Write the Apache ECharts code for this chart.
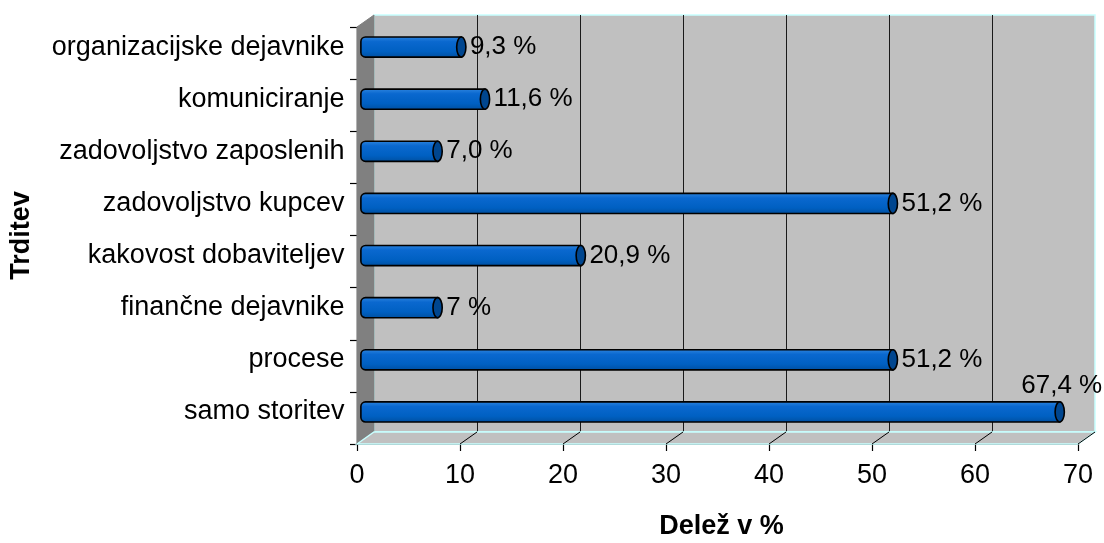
<!DOCTYPE html>
<html>
<head>
<meta charset="utf-8">
<style>
  html, body { margin: 0; padding: 0; background: #fff; }
  #chart { width: 1104px; height: 543px; }
</style>
<script src="https://cdn.jsdelivr.net/npm/echarts@6/dist/echarts.min.js"></script>
</head>
<body>
<div id="chart"></div>
<script>
// Categories, listed top to bottom
const categories = [
  'organizacijske dejavnike',
  'komuniciranje',
  'zadovoljstvo zaposlenih',
  'zadovoljstvo kupcev',
  'kakovost dobaviteljev',
  'finančne dejavnike',
  'procese',
  'samo storitev'
];
// Share in percent
const shares = [9.3, 11.6, 7.0, 51.2, 20.9, 7, 51.2, 67.4];
// Value labels as printed next to each bar
const shareLabels = ['9,3 %', '11,6 %', '7,0 %', '51,2 %', '20,9 %', '7 %', '51,2 %', '67,4 %'];
// Value axis ticks
const axisMin = 0, axisMax = 70, axisStep = 10;

const FONT = 'Liberation Sans, Arial, sans-serif';
const FS = 27;

// Front plane of the 3-D box, plus the depth offset of the back wall
const FRONT = { left: 357, right: 26, top: 27, bottom: 99 };
const DX = 17, DY = 12;
const BACK = { left: FRONT.left + DX, right: FRONT.right - DX, top: FRONT.top - DY, bottom: FRONT.bottom + DY };
const MID = { left: FRONT.left + DX / 2, right: FRONT.right - DX / 2, top: FRONT.top - DY / 2, bottom: FRONT.bottom + DY / 2 };

const chart = echarts.init(document.getElementById('chart'), null, { renderer: 'canvas' });

const measureCtx = document.createElement('canvas').getContext('2d');
measureCtx.font = '26px ' + FONT;

const barFill = new echarts.graphic.LinearGradient(0, 0, 0, 1, [
  { offset: 0, color: '#2f86df' },
  { offset: 0.25, color: '#0a68cf' },
  { offset: 0.7, color: '#0060c2' },
  { offset: 1, color: '#004f9f' }
]);

const valueAxisBase = { type: 'value', min: axisMin, max: axisMax, interval: axisStep };
const gridBase = { containLabel: false, outerBoundsMode: 'none' };

const option = {
  backgroundColor: '#ffffff',
  animation: false,
  grid: [
    Object.assign({ show: false }, gridBase, FRONT),
    Object.assign({ show: true, backgroundColor: '#c0c0c0', borderColor: '#c8ffff', borderWidth: 1.5 }, gridBase, BACK),
    Object.assign({ show: false }, gridBase, MID)
  ],
  xAxis: [
    Object.assign({}, valueAxisBase, {
      gridIndex: 0,
      name: 'Delež v %',
      nameLocation: 'middle',
      nameGap: 69,
      nameMoveOverlap: false,
      nameTextStyle: { fontFamily: FONT, fontSize: 27, fontWeight: 'bold', color: '#000', padding: [0, 0, 0, 8] },
      axisLine: { show: true, lineStyle: { color: '#3a3a3a', width: 1.5 } },
      axisTick: { show: true, inside: false, length: 7, lineStyle: { color: '#000', width: 1.2 } },
      axisLabel: { show: true, margin: 18, fontFamily: FONT, fontSize: FS, color: '#000' },
      splitLine: { show: false }
    }),
    Object.assign({}, valueAxisBase, {
      gridIndex: 1,
      axisLine: { show: false },
      axisTick: { show: false },
      axisLabel: { show: false },
      splitLine: { show: true, showMinLine: false, showMaxLine: false, lineStyle: { color: '#1a1a1a', width: 1 } }
    }),
    Object.assign({}, valueAxisBase, {
      gridIndex: 2,
      axisLine: { show: false },
      axisTick: { show: false },
      axisLabel: { show: false },
      splitLine: { show: false }
    })
  ],
  yAxis: [
    {
      type: 'category', gridIndex: 0, data: categories, inverse: true,
      name: 'Trditev',
      nameLocation: 'middle',
      nameRotate: 90,
      nameGap: 322,
      nameMoveOverlap: false,
      nameTextStyle: { fontFamily: FONT, fontSize: 27, fontWeight: 'bold', color: '#000' },
      axisLine: { show: true, lineStyle: { color: '#000', width: 1.2 } },
      axisTick: { show: true, inside: false, length: 7, lineStyle: { color: '#000', width: 1.2 } },
      axisLabel: { show: false },
      splitLine: { show: false }
    },
    {
      type: 'category', gridIndex: 1, data: categories, inverse: true,
      axisLine: { show: false }, axisTick: { show: false }, axisLabel: { show: false }, splitLine: { show: false }
    },
    {
      type: 'category', gridIndex: 2, data: categories, inverse: true,
      axisLine: { show: false }, axisTick: { show: false },
      axisLabel: { show: true, margin: 21, fontFamily: FONT, fontSize: FS, color: '#000' },
      splitLine: { show: false }
    }
  ],
  series: [
    {
      // Side wall and floor of the 3-D box, with the floor tick lines
      type: 'custom',
      name: 'frame',
      xAxisIndex: 0,
      yAxisIndex: 0,
      z: 1,
      silent: true,
      data: (function () {
        const t = [];
        for (let v = axisMin; v <= axisMax; v += axisStep) t.push([v, 0]);
        return t;
      })(),
      renderItem: function (params, api) {
        const cs = params.coordSys;
        const bottom = cs.y + cs.height;
        const x = api.coord([api.value(0), 0])[0];
        const children = [];
        if (params.dataIndex === 0) {
          children.push({
            type: 'polygon',
            shape: { points: [[cs.x, cs.y], [cs.x + DX, cs.y - DY], [cs.x + DX, bottom - DY], [cs.x, bottom]] },
            style: { fill: '#808080', stroke: '#808080', lineWidth: 1 }
          });
          children.push({
            type: 'polygon',
            shape: { points: [[cs.x, bottom], [cs.x + DX, bottom - DY], [cs.x + cs.width + DX, bottom - DY], [cs.x + cs.width, bottom]] },
            style: { fill: '#c0c0c0', stroke: '#c8ffff', lineWidth: 1.5 }
          });
        } else {
          children.push({
            type: 'line',
            shape: { x1: x, y1: bottom, x2: x + DX, y2: bottom - DY },
            style: { stroke: '#000', lineWidth: 1 }
          });
        }
        return { type: 'group', children: children };
      }
    },
    {
      // Cylinder bars
      type: 'custom',
      name: 'Delež',
      xAxisIndex: 2,
      yAxisIndex: 2,
      z: 5,
      data: shares.map(function (v, i) { return [v, i]; }),
      encode: { x: 0, y: 1 },
      renderItem: function (params, api) {
        const v = api.value(0), i = api.value(1);
        const s = api.coord([0, i]);
        const e = api.coord([v, i]);
        const h = api.size([0, 1])[1] * 0.385;
        const rx = h * 0.23;
        const label = shareLabels[params.dataIndex];
        const tw = measureCtx.measureText(label).width;
        const gap = 4;
        const fitsRight = e[0] + rx + gap + tw <= api.getWidth() - 2;
        const text = fitsRight
          ? { x: e[0] + rx + gap, y: e[1], align: 'left', verticalAlign: 'middle' }
          : { x: e[0] + 2, y: e[1] - h / 2 - 3, align: 'center', verticalAlign: 'bottom' };
        return {
          type: 'group',
          children: [
            {
              type: 'rect',
              shape: { x: s[0] - rx, y: s[1] - h / 2, width: e[0] - s[0] + rx, height: h, r: [rx, 0, 0, rx] },
              style: { fill: barFill, stroke: '#000', lineWidth: 1.6 }
            },
            {
              type: 'ellipse',
              shape: { cx: e[0], cy: e[1], rx: rx, ry: h / 2 },
              style: { fill: '#00468f', stroke: '#000', lineWidth: 1.6 }
            },
            {
              type: 'text',
              style: Object.assign({
                text: label,
                fill: '#000',
                fontSize: 26,
                fontFamily: FONT
              }, text)
            }
          ]
        };
      }
    }
  ]
};

chart.setOption(option);
</script>
</body>
</html>
